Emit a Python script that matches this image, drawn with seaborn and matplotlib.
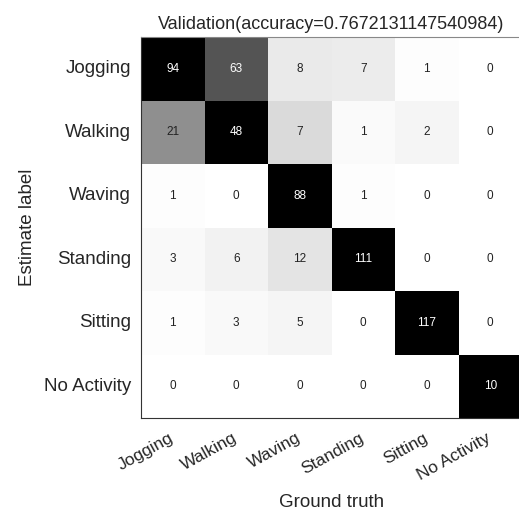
import numpy as np
import pandas as pd
import matplotlib
matplotlib.use("Agg")
import matplotlib.pyplot as plt
import matplotlib.transforms as mtransforms
import seaborn as sns

plt.rcParams['font.family'] = ['Liberation Sans', 'DejaVu Sans']

labels = ["Jogging", "Walking", "Waving", "Standing", "Sitting", "No Activity"]
row_jogging = [94, 63, 8, 7, 1, 0]
row_walking = [21, 48, 7, 1, 2, 0]
row_waving = [1, 0, 88, 1, 0, 0]
row_standing = [3, 6, 12, 111, 0, 0]
row_sitting = [1, 3, 5, 0, 117, 0]
row_noact = [0, 0, 0, 0, 0, 10]

counts = np.array([row_jogging, row_walking, row_waving, row_standing, row_sitting, row_noact])
acc = np.trace(counts) / counts.sum()
norm = counts / counts.max(axis=1, keepdims=True)

df_norm = pd.DataFrame(norm, index=labels, columns=labels)

fig = plt.figure(figsize=(5.19, 5.18), dpi=100)
ax = fig.add_axes([141/519, 100/518, 381/519, 381/518])
sns.heatmap(df_norm, ax=ax, cmap="gray_r", vmin=0, vmax=1, cbar=False,
            annot=counts, fmt="d", annot_kws={"fontsize": 8.5})

for t, v in zip(ax.texts, norm.flatten()):
    t.set_color("white" if v > 0.5 else "#222222")

for side in ["left", "bottom", "top", "right"]:
    ax.spines[side].set_visible(True)
ax.spines["left"].set_color("#333333")
ax.spines["bottom"].set_color("#333333")
ax.spines["top"].set_color("#888888")
ax.spines["right"].set_color("#888888")

ax.tick_params(length=0, colors="#262626")
ax.set_xticklabels(labels, rotation=29, ha="right", rotation_mode="anchor", fontsize=12.5)
ax.set_yticklabels(labels, rotation=0, fontsize=13.5)
ax.tick_params(axis="y", pad=7)
ax.tick_params(axis="x", pad=9)
offset = mtransforms.ScaledTranslation(-4/100, 0, fig.dpi_scale_trans)
for lab in ax.get_xticklabels():
    lab.set_transform(lab.get_transform() + offset)
ax.set_xlabel("Ground truth", fontsize=13.5, color="#262626", labelpad=8)
ax.set_ylabel("Estimate label", fontsize=13.5, color="#262626", labelpad=6)
ax.set_title(f"Validation(accuracy={acc})", fontsize=13, color="#262626", pad=6)

fig.savefig("out.png", dpi=100)
